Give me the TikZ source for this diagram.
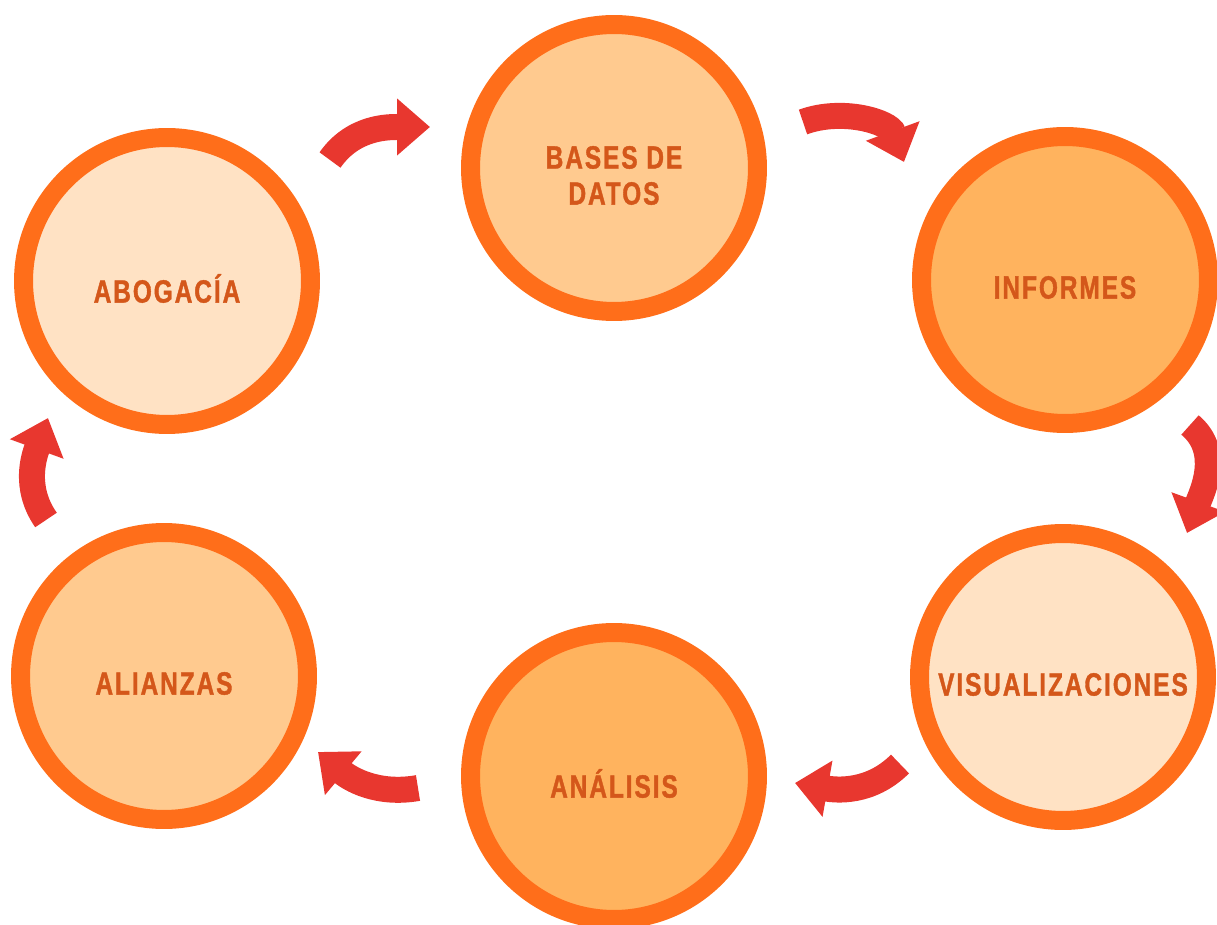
\documentclass[tikz,border=0pt]{standalone}
\usepackage{fontspec}
\usetikzlibrary{arrows.meta}
\newfontfamily\stagefont{Liberation Sans}[FakeStretch=0.76,FakeBold=1.2,LetterSpace=6]

\definecolor{ringorange}{HTML}{FF6E1A}
\definecolor{labelorange}{HTML}{D4571A}
\definecolor{cyclered}{HTML}{E8372F}
\definecolor{palefill}{HTML}{FFE2C4}
\definecolor{midfill}{HTML}{FFCA8F}
\definecolor{deepfill}{HTML}{FFB35E}

\tikzset{
  stage/.style={circle,draw=ringorange,line width=0.38cm,minimum size=5.74cm},
  stagelabel/.style={align=center,text=labelorange,
    font=\stagefont\bfseries\fontsize{18.3}{20.5}\selectfont},
  cyclearrow/.style={draw=cyclered,line width=0.52cm,
    -{Triangle[length=0.66cm,width=1.1cm]}}
}

\begin{document}
\begin{tikzpicture}[x=0.02cm,y=0.02cm]
  \clip (0,0) rectangle (1217,924);
  % the six stages
  \foreach \nm/\cx/\cy/\col/\lab in {abog/167/643/palefill/ABOGACÍA,
      bases/614/756/midfill/{BASES DE\\DATOS},
      inf/1065/644/deepfill/INFORMES,
      vis/1063/247/palefill/VISUALIZACIONES,
      anal/614/148/deepfill/ANÁLISIS,
      ali/164/248/midfill/ALIANZAS} {
    \node[stage,fill=\col] (\nm) at (\cx,\cy) {};
    \node[stagelabel] (\nm-lab) at ([yshift=-0.15cm]\nm.center) {\lab};
  }
  % arrow ends between the stages
  \coordinate (t1) at (330,764); \coordinate (h1) at (430,797);
  \coordinate (t2) at (803,802); \coordinate (h2) at (904,762);
  \coordinate (t3) at (1190,499); \coordinate (h3) at (1187,391);
  \coordinate (t4) at (900,160); \coordinate (h4) at (795,141);
  \coordinate (t5) at (418,136); \coordinate (h5) at (318,172);
  \coordinate (t6) at (46,404); \coordinate (h6) at (48,506);
  \draw[cyclearrow] (t1) to[out=55,in=180] (h1);
  \draw[cyclearrow] (t2) to[out=20,in=110] (h2);
  \draw[cyclearrow] (t3) to[out=-40,in=70] (h3);
  \draw[cyclearrow] (t4) to[out=-135,in=-10] (h4);
  \draw[cyclearrow] (t5) to[out=190,in=-40] (h5);
  \draw[cyclearrow] (t6) to[out=125,in=-110] (h6);
\end{tikzpicture}
\end{document}
